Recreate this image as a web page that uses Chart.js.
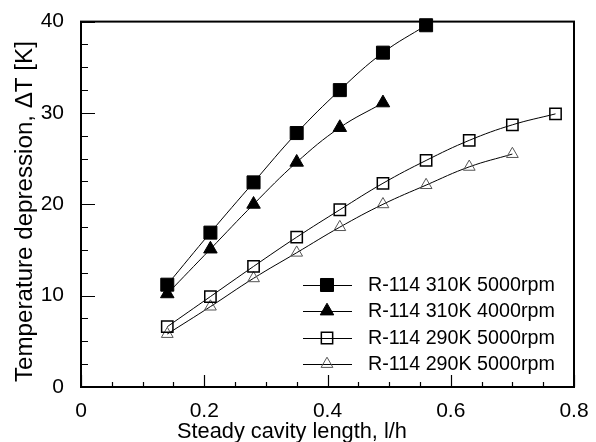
<!DOCTYPE html>
<html>
<head>
<meta charset="utf-8">
<script src="https://cdn.jsdelivr.net/npm/chart.js@4.4.1/dist/chart.umd.min.js"></script>
<style>
  html, body { margin: 0; padding: 0; background: #fff; }
</style>
</head>
<body>
<canvas id="myChart" width="596" height="442"></canvas>
<script>
// steady cavity length l/h (x positions of the measurements)
const cavityLength = [0.14, 0.21, 0.28, 0.35, 0.42, 0.49, 0.56, 0.63, 0.70, 0.77];

// temperature depression dT [K]
const dt310k5000 = [11.2, 16.9, 22.4, 27.8, 32.5, 36.6, 39.6];
const dt310k4000 = [10.2, 15.1, 20.0, 24.6, 28.4, 31.1];
const dt290k5000 = [6.6, 9.9, 13.2, 16.4, 19.4, 22.3, 24.8, 27.0, 28.7, 29.9];
const dt290k5000b = [5.8, 8.8, 11.9, 14.7, 17.5, 20.0, 22.1, 24.1, 25.5];

const seriesLabels = [
  "R-114 310K 5000rpm",
  "R-114 310K 4000rpm",
  "R-114 290K 5000rpm",
  "R-114 290K 5000rpm"
];

const xTicks = [0, 0.2, 0.4, 0.6, 0.8];
const yTicks = [0, 10, 20, 30, 40];

const xTitle = "Steady cavity length, l/h";
const yTitle = "Temperature depression, \u0394T [K]";

const FONT = "'Liberation Sans', Arial, sans-serif";

function toPoints(vals) {
  return vals.map((v, i) => ({ x: cavityLength[i], y: v }));
}

// pick a font size so that text spans the wanted width
function fitFont(ctx, text, width) {
  ctx.font = "20px " + FONT;
  const size = 20 * width / ctx.measureText(text).width;
  ctx.font = size.toFixed(2) + "px " + FONT;
}

// frame, inward ticks and axis titles
const framePlugin = {
  id: "frame",
  afterDatasetsDraw(chart) {
    const ctx = chart.ctx;
    const a = chart.chartArea;
    const xs = chart.scales.x;
    const ys = chart.scales.y;
    ctx.save();
    ctx.strokeStyle = "#000";
    ctx.lineWidth = 2;
    ctx.strokeRect(a.left, a.top, a.right - a.left, a.bottom - a.top);

    ctx.lineWidth = 1.2;
    ctx.beginPath();
    for (let i = 0; i <= 16; i++) {
      const px = Math.round(xs.getPixelForValue(i * 0.05)) + 0.5;
      ctx.moveTo(px, a.bottom);
      ctx.lineTo(px, a.bottom - (i % 4 === 0 ? 12 : 5));
    }
    for (let i = 0; i <= 16; i++) {
      const py = Math.round(ys.getPixelForValue(i * 2.5)) + 0.5;
      ctx.moveTo(a.left, py);
      ctx.lineTo(a.left + (i % 4 === 0 ? 14 : 7), py);
    }
    ctx.stroke();

    ctx.fillStyle = "#000";
    ctx.textBaseline = "alphabetic";
    ctx.textAlign = "left";
    fitFont(ctx, xTitle, 230);
    ctx.fillText(xTitle, 177, 438);

    ctx.translate(32, 382);
    ctx.rotate(-Math.PI / 2);
    fitFont(ctx, yTitle, 341);
    ctx.fillText(yTitle, 0, 0);
    ctx.restore();
  }
};

function drawMarker(ctx, ds, x, y) {
  const r = ds.pointRadius;
  ctx.beginPath();
  if (ds.pointStyle === "rect") {
    const s = r * Math.SQRT1_2;
    ctx.rect(x - s, y - s, 2 * s, 2 * s);
  } else {
    const w = r * Math.sqrt(3) / 2;
    ctx.moveTo(x, y - r);
    ctx.lineTo(x + w, y + r / 2);
    ctx.lineTo(x - w, y + r / 2);
    ctx.closePath();
  }
  if (ds.pointBackgroundColor !== "transparent") {
    ctx.fillStyle = ds.pointBackgroundColor;
    ctx.fill();
  }
  ctx.lineWidth = ds.pointBorderWidth;
  ctx.strokeStyle = ds.pointBorderColor;
  ctx.stroke();
}

// legend drawn as line + marker samples inside the plot
const lineLegend = {
  id: "lineLegend",
  afterDraw(chart) {
    const ctx = chart.ctx;
    const rows = [285, 311, 338, 364];
    ctx.save();
    chart.data.datasets.forEach((ds, i) => {
      const y = rows[i];
      ctx.strokeStyle = "#000";
      ctx.lineWidth = 1;
      ctx.beginPath();
      ctx.moveTo(303, y + 0.5);
      ctx.lineTo(352, y + 0.5);
      ctx.stroke();
      drawMarker(ctx, ds, 327, y);
      ctx.fillStyle = "#000";
      fitFont(ctx, seriesLabels[0], 187);
      ctx.textAlign = "left";
      ctx.textBaseline = "middle";
      ctx.fillText(ds.label, 368, y + 1);
    });
    ctx.restore();
  }
};

function series(label, vals, style, fill, border, radius, bw) {
  return {
    label: label,
    data: toPoints(vals),
    borderColor: "#000",
    borderWidth: 1,
    tension: 0.4,
    fill: false,
    clip: false,
    pointStyle: style,
    pointRadius: radius,
    pointHoverRadius: radius,
    pointBackgroundColor: fill,
    pointBorderColor: border,
    pointBorderWidth: bw
  };
}

new Chart(document.getElementById("myChart"), {
  type: "line",
  data: {
    datasets: [
      series(seriesLabels[0], dt310k5000, "rect", "#000", "#000", 9.2, 1),
      series(seriesLabels[1], dt310k4000, "triangle", "#000", "#000", 7.8, 1),
      series(seriesLabels[2], dt290k5000, "rect", "transparent", "#000", 8, 1.5),
      series(seriesLabels[3], dt290k5000b, "triangle", "transparent", "#555", 6.8, 1)
    ]
  },
  options: {
    responsive: false,
    animation: false,
    layout: { padding: { top: 16, right: 22, left: 0, bottom: 0 } },
    plugins: { legend: { display: false }, tooltip: { enabled: false } },
    scales: {
      x: {
        type: "linear",
        min: xTicks[0],
        max: xTicks[xTicks.length - 1],
        afterBuildTicks: s => { s.ticks = xTicks.map(v => ({ value: v })); },
        afterFit: s => { s.height = 55; },
        grid: { display: false },
        border: { display: false },
        ticks: { color: "#000", font: { family: FONT, size: 21 }, padding: 4, maxRotation: 0 }
      },
      y: {
        min: yTicks[0],
        max: yTicks[yTicks.length - 1],
        afterBuildTicks: s => { s.ticks = yTicks.map(v => ({ value: v })); },
        afterFit: s => { s.width = 81; },
        grid: { display: false },
        border: { display: false },
        ticks: { color: "#000", font: { family: FONT, size: 21 }, padding: 9 }
      }
    }
  },
  plugins: [framePlugin, lineLegend]
});
</script>
</body>
</html>
